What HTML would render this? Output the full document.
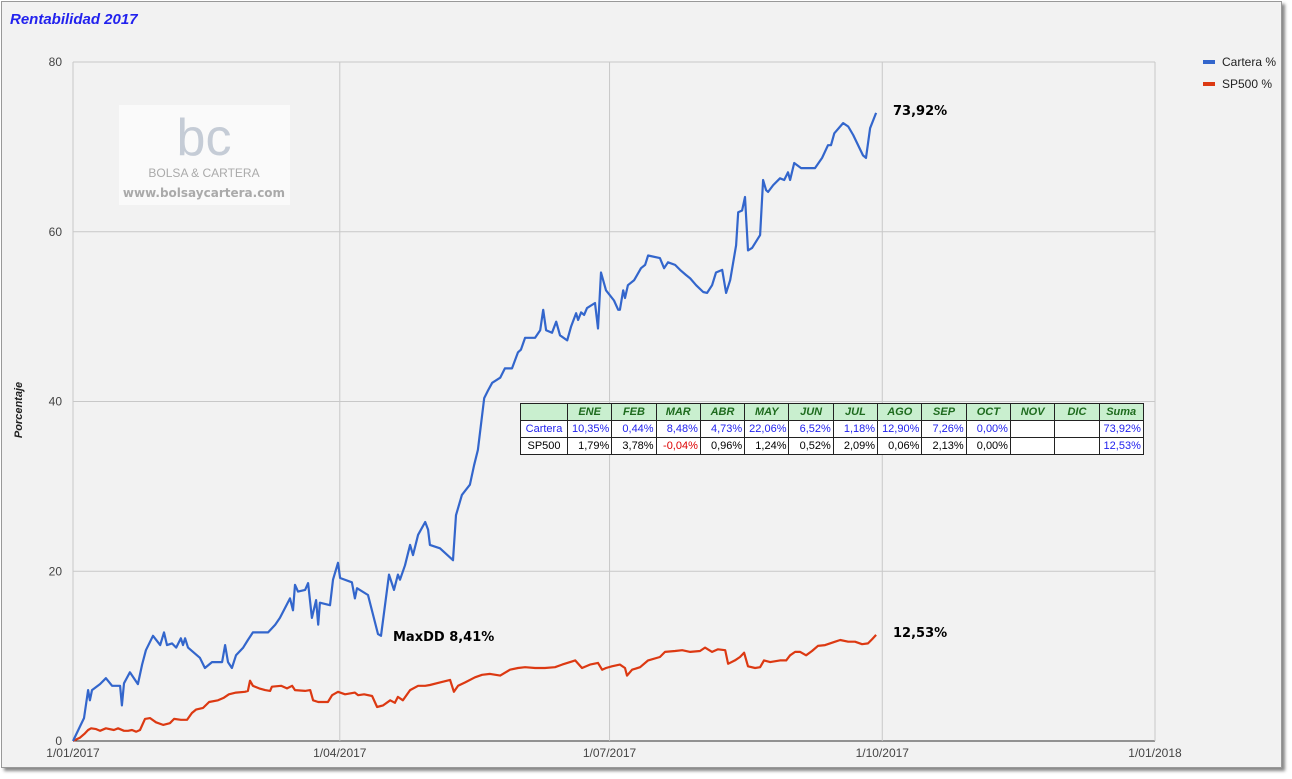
<!DOCTYPE html>
<html><head><meta charset="utf-8"><style>
body{margin:0;background:#fff;width:1292px;height:779px;overflow:hidden;font-family:"Liberation Sans",sans-serif}
#frame{position:absolute;left:1px;top:1px;width:1279px;height:765px;background:#f2f2f2;border:1px solid #999;box-shadow:3px 3px 3px #888}
svg{position:absolute;left:0;top:0}
table{position:absolute;left:520px;top:403px;border-collapse:collapse;font-size:11px;background:#fff}
td{border:1px solid #222;height:16px;padding:0 2px;text-align:right;width:39.3px}
td.f{width:42px;text-align:center}
tr.h td{background:#c9efcf;color:#1e6b1e;font-style:italic;font-weight:bold;text-align:center}
tr.c td{color:#2222ee}
</style></head><body>
<div id="frame"></div>
<svg id="chart" width="1292" height="779"></svg>
<table>
<tr class="h"><td class="f"></td><td>ENE</td><td>FEB</td><td>MAR</td><td>ABR</td><td>MAY</td><td>JUN</td><td>JUL</td><td>AGO</td><td>SEP</td><td>OCT</td><td>NOV</td><td>DIC</td><td>Suma</td></tr>
<tr class="c"><td class="f">Cartera</td><td>10,35%</td><td>0,44%</td><td>8,48%</td><td>4,73%</td><td>22,06%</td><td>6,52%</td><td>1,18%</td><td>12,90%</td><td>7,26%</td><td>0,00%</td><td></td><td></td><td>73,92%</td></tr>
<tr><td class="f">SP500</td><td>1,79%</td><td>3,78%</td><td style="color:#d00">-0,04%</td><td>0,96%</td><td>1,24%</td><td>0,52%</td><td>2,09%</td><td>0,06%</td><td>2,13%</td><td>0,00%</td><td></td><td></td><td style="color:#2222ee">12,53%</td></tr>
</table>
<script>
const carteraDays=[0,3.7,5.1,5.7,6.4,9.1,11.1,13.2,15.9,16.5,17.2,19.2,21.9,23.3,24.6,27,29.4,30.7,31.7,33.4,34.8,36.4,37.1,37.8,38.8,42.8,44.5,46.9,50.3,51.3,52.3,53.6,55,57.4,59,60.7,65.8,68.2,69.8,73.2,74.2,74.9,75.9,78.3,79.3,80.6,82,82.7,83.3,86.7,87.7,89.4,90.1,94.1,95.1,95.8,99.5,102.9,103.9,106.6,108.3,109.6,110.3,112,113.7,114.7,116.4,118.8,119.8,120.4,123.8,128.2,129.2,131.2,133.9,135.3,136.6,138.7,140,141.4,144.1,145.7,148.1,150.1,151.1,152.5,155.9,157.6,158.6,159.6,161.6,163,164.3,166.7,168,169.7,170.4,171.4,172.4,173.4,176.1,177.1,178.1,179.8,182.5,183.9,184.5,185.6,186.2,187.2,189.3,191.6,193,194,198,199.4,200.7,203.1,204.8,206.8,208.2,210.2,212.6,213.9,215.6,216.9,219,220.3,221.7,223.7,224.4,225.7,226.7,227.7,229.1,231.8,232.8,233.8,234.5,236.2,238.5,239.9,241.2,241.9,243.3,245.6,250.3,252.7,254.7,255.7,256.8,259.8,261.5,263.2,266.5,267.5,268.9,270.9];
const carteraValues=[0,2.7,6,4.8,6,6.7,7.4,6.5,6.5,4.2,6.8,8.1,6.7,9,10.7,12.4,11.3,12.8,11.3,11.5,11,12.1,11.3,12.1,11,9.8,8.6,9.3,9.3,11.3,9.3,8.6,10.1,11,11.9,12.8,12.8,13.7,14.5,16.8,15.4,18.4,17.6,17.8,18.6,14.5,16.6,13.7,16.3,16,19,21,19.2,18.7,16.8,18,17.2,12.6,12.4,19.6,17.8,19.6,19,20.7,23.1,21.9,24.3,25.8,24.9,23.1,22.7,21.3,26.6,29,30.2,32.5,34.3,40.4,41.3,42.2,42.8,43.9,43.9,45.8,46.1,47.5,47.5,48.4,50.8,48.4,48.1,49.4,47.8,47.2,48.8,50.4,49.6,50.5,50.2,51,51.6,48.6,55.2,53.1,51.9,50.8,50.8,53.1,52.2,53.7,54.3,55.7,56.1,57.2,56.9,55.7,56.4,56.1,55.5,54.9,54.5,53.7,52.9,52.8,53.7,55.2,55.5,52.8,54.3,58.4,62.3,62.5,64.1,57.8,58.1,59.6,66.1,64.9,64.7,65.5,66.3,66.1,67,66.1,68.1,67.5,67.5,68.7,70.2,70.2,71.6,72.8,72.4,71.4,69,68.7,72.2,74];
const spDays=[0,2.4,4,5.1,6.1,7.8,9.1,11.1,13.8,15.2,17.2,18.6,19.9,21.3,22.6,24.3,26,28,30.4,32.7,34.1,36.4,38.5,40.1,41.5,43.9,45.9,48.9,50.9,52.6,55,58,59,59.7,60.7,62.8,64.8,66.5,67.1,70.2,72.2,73.9,74.9,78.3,80,81,82.7,86,87.4,89.4,91.8,95.1,96.2,98.2,100.9,102.6,104.6,107,108.6,109.6,111.3,113.7,116.4,118.8,120.4,123.8,127.2,128.5,129.9,132.3,135.6,138,140.7,144.1,147.4,150.1,152.5,155.9,159.2,162.6,165,167.7,169.4,171.7,174.4,177.1,178.5,179.8,181.8,184.5,186.2,186.9,188.6,191.3,194,198,199.7,203.1,205.5,208.2,211.5,213.2,215.6,217.6,220,221,223.3,225,226.4,227.7,230.1,231.8,233.1,235.2,238.5,240.6,241.9,243.6,245.3,247.3,249.3,251.3,253.7,257.1,258.8,261.5,263.8,266.2,268.2,269.6,270.9];
const spValues=[0,0.4,0.9,1.3,1.5,1.4,1.2,1.5,1.3,1.5,1.2,1.2,1.3,1.1,1.3,2.6,2.7,2.2,1.9,2.1,2.6,2.5,2.5,3.3,3.7,3.9,4.6,4.8,5.1,5.5,5.7,5.8,5.9,7.1,6.5,6.2,6,5.9,6.4,6.5,6.2,6.5,6,5.9,6,4.8,4.6,4.6,5.4,5.8,5.5,5.7,5.4,5.5,5.3,4,4.2,4.8,4.5,5.2,4.8,6,6.5,6.5,6.6,6.9,7.2,5.8,6.5,6.9,7.5,7.8,7.9,7.7,8.4,8.6,8.7,8.6,8.6,8.7,9,9.3,9.5,8.6,9,9.2,8.4,8.6,8.8,9,8.6,7.7,8.4,8.7,9.5,9.9,10.5,10.6,10.7,10.5,10.6,11,10.5,10.8,10.7,9.1,9.5,9.9,10.4,8.8,8.6,8.7,9.5,9.3,9.5,9.5,10.1,10.5,10.5,10.1,10.6,11.2,11.3,11.7,11.9,11.7,11.7,11.4,11.5,12,12.5];
const yTicks=[0,20,40,60,80];
const xTickDays=[0,90,181,273,365];
const xTickLabels=["1/01/2017","1/04/2017","1/07/2017","1/10/2017","1/01/2018"];
const X0=73,X1=1155,Y0=741,Y1=62;
const xs=d=>X0+(X1-X0)*d/365, ys=v=>Y0-(Y0-Y1)*v/80;
const svg=document.getElementById('chart');const NS='http://www.w3.org/2000/svg';
function mk(t,a,txt){const e=document.createElementNS(NS,t);for(const k in a)e.setAttribute(k,a[k]);if(txt!==undefined)e.textContent=txt;svg.appendChild(e);return e;}
let e;
e=mk('rect',{x:119,y:105,width:171,height:100,fill:'#fafafa'});


e=mk('text',{x:204,y:155,'font-size':52,fill:'#c5ccd6','text-anchor':'middle','font-family':'Liberation Sans'},'bc');


e=mk('text',{x:204,y:177,'font-size':12,fill:'#aaa','text-anchor':'middle','font-family':'Liberation Sans'},'BOLSA & CARTERA');


e=mk('text',{x:204,y:197,'font-size':12,fill:'#aaa','text-anchor':'middle','font-weight':'bold','font-family':'DejaVu Sans'},'www.bolsaycartera.com');


yTicks.forEach(v=>{
 e=mk('line',{x1:X0,x2:X1,y1:ys(v),y2:ys(v),stroke:v===0?'#333':'#c8c8c8','stroke-width':1});
 
 
 e=mk('text',{x:62,y:ys(v)+4,'font-size':12,fill:'#444','text-anchor':'end'},String(v));
 
 
});
xTickDays.forEach((d,i)=>{
 e=mk('line',{x1:xs(d),x2:xs(d),y1:Y1,y2:Y0,stroke:'#c8c8c8','stroke-width':1});
 
 
 e=mk('text',{x:xs(d),y:757,'font-size':12,fill:'#444','text-anchor':'middle'},xTickLabels[i]);
 
 
});
function line(days,vals,col,name){
 const p=days.map((d,i)=>xs(d).toFixed(1)+','+ys(vals[i]).toFixed(1)).join(' ');
 e=mk('polyline',{points:p,fill:'none',stroke:col,'stroke-width':2.2,'stroke-linejoin':'round'});
 
 
}
line(spDays,spValues,'#dc3912','sp500-line');
line(carteraDays,carteraValues,'#3366cc','cartera-line');
e=mk('text',{x:10,y:24,'font-size':15,fill:'#2222ee','font-weight':'bold','font-style':'italic'},'Rentabilidad 2017');


e=mk('text',{x:0,y:0,'font-size':11,fill:'#222','font-weight':'bold','font-style':'italic',transform:'translate(22,410) rotate(-90)','text-anchor':'middle'},'Porcentaje');


[['Cartera %','#3366cc',62],['SP500 %','#dc3912',84]].forEach(l=>{
 e=mk('line',{x1:1203,x2:1215,y1:l[2],y2:l[2],stroke:l[1],'stroke-width':4});
 
 
 e=mk('text',{x:1222,y:l[2]+4,'font-size':12,fill:'#222'},l[0]);
 
 
});
[['73,92%',893,115],['12,53%',893,637],['MaxDD 8,41%',393,641]].forEach(a=>{
 e=mk('text',{x:a[1],y:a[2],'font-size':13,fill:'#000','font-weight':'600','font-family':'DejaVu Sans'},a[0]);
 
 
});
</script>
</body></html>
